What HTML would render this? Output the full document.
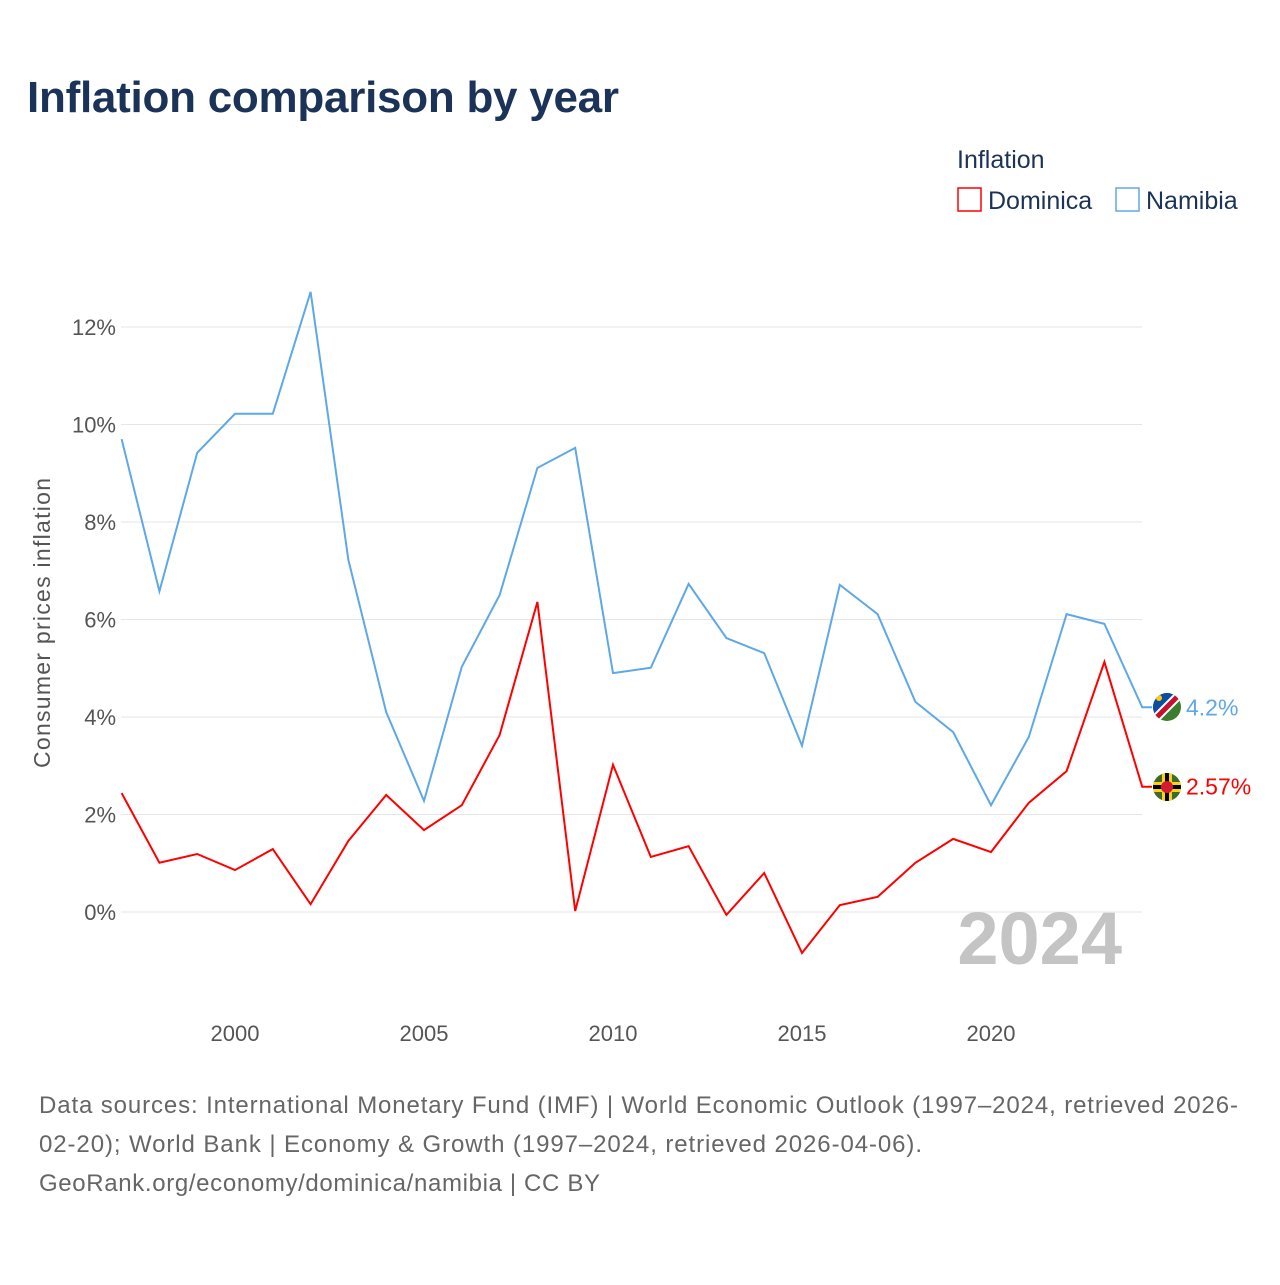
<!DOCTYPE html>
<html><head><meta charset="utf-8"><style>
body{margin:0;background:#fff;width:1280px;height:1280px;overflow:hidden;font-family:"Liberation Sans",sans-serif}
</style></head><body>
<svg id="chart" width="1280" height="1280" xmlns="http://www.w3.org/2000/svg" font-family="Liberation Sans, sans-serif">
<text x="27" y="112" font-size="44" font-weight="bold" fill="#1b3358" textLength="592">Inflation comparison by year</text>
<text x="957" y="168" font-size="25" fill="#1b3358">Inflation</text>
<g><rect x="958" y="188" width="23" height="23" fill="none" stroke="#ff0000" stroke-width="1.5"/><text x="988" y="209" font-size="25" fill="#1b3358">Dominica</text></g>
<g><rect x="1116" y="188" width="23" height="23" fill="none" stroke="#5ea8e8" stroke-width="1.5"/><text x="1146" y="209" font-size="25" fill="#1b3358">Namibia</text></g>
<text transform="translate(50,623) rotate(-90)" text-anchor="middle" font-size="23" fill="#555" textLength="290">Consumer prices inflation</text>
<g id="grid"></g><g id="yticks"></g><g id="xticks"></g>
<text x="1122" y="964" text-anchor="end" font-size="74" font-weight="bold" fill="#c4c4c4">2024</text>
<g id="series"></g>
<g><clipPath id="cn"><circle cx="1167" cy="707" r="14"/></clipPath><g clip-path="url(#cn)"><rect x="1150" y="690" width="34" height="34" fill="#3a7d2c"/><polygon points="1150,690 1184,690 1150,724" fill="#0a4ea2"/><line x1="1184" y1="690" x2="1150" y2="724" stroke="#fff" stroke-width="9"/><line x1="1184" y1="690" x2="1150" y2="724" stroke="#c8102e" stroke-width="5"/><circle cx="1159" cy="698" r="3" fill="#ffce00"/></g></g>
<g><clipPath id="cd"><circle cx="1167" cy="787" r="14"/></clipPath><g clip-path="url(#cd)"><rect x="1150" y="770" width="34" height="34" fill="#3f6b2a"/><rect x="1150" y="782" width="34" height="10" fill="#fcd116"/><rect x="1150" y="785" width="34" height="4" fill="#000"/><rect x="1162" y="770" width="10" height="34" fill="#fcd116"/><rect x="1165" y="770" width="4" height="34" fill="#000"/><circle cx="1167" cy="787" r="6" fill="#d41c30"/></g></g>
<text font-size="24" fill="#666"><tspan x="39" y="1113" textLength="1199">Data sources: International Monetary Fund (IMF) | World Economic Outlook (1997–2024, retrieved 2026-</tspan><tspan x="39" y="1152" textLength="883">02-20); World Bank | Economy &amp; Growth (1997–2024, retrieved 2026-04-06).</tspan><tspan x="39" y="1191" textLength="561">GeoRank.org/economy/dominica/namibia | CC BY</tspan></text>
</svg>
<script>
const years=[1997,1998,1999,2000,2001,2002,2003,2004,2005,2006,2007,2008,2009,2010,2011,2012,2013,2014,2015,2016,2017,2018,2019,2020,2021,2022,2023,2024];
const namibia=[9.70,6.58,9.42,10.22,10.22,12.72,7.22,4.10,2.28,5.03,6.50,9.11,9.52,4.90,5.01,6.73,5.62,5.31,3.41,6.71,6.11,4.31,3.69,2.19,3.59,6.11,5.91,4.2];
const dominica=[2.44,1.01,1.19,0.86,1.29,0.16,1.46,2.40,1.68,2.19,3.63,6.36,0.02,3.02,1.13,1.35,-0.06,0.80,-0.84,0.14,0.31,1.01,1.50,1.23,2.24,2.89,5.13,2.57];
const yTicks=[0,2,4,6,8,10,12];
const xTicks=[2000,2005,2010,2015,2020];
const X=y=>121.6+(y-1997)*37.8;
const Y=v=>912-v*48.75;
const NS="http://www.w3.org/2000/svg";
function mk(t,a,p){const e=document.createElementNS(NS,t);for(const k in a)e.setAttribute(k,a[k]);p.appendChild(e);return e;}
const grid=document.getElementById('grid'),yt=document.getElementById('yticks'),xt=document.getElementById('xticks'),se=document.getElementById('series');
yTicks.forEach(v=>{
 const l=mk('line',{x1:121,x2:1142,y1:Y(v),y2:Y(v),stroke:'#e6e6e6','stroke-width':1},grid);
 
 
 const t=mk('text',{x:116,y:Y(v)+8,'text-anchor':'end','font-size':22,fill:'#555'},yt);
 t.textContent=v+'%';
 
 
});
xTicks.forEach(v=>{
 const t=mk('text',{x:X(v),y:1041,'text-anchor':'middle','font-size':22,fill:'#555'},xt);
 t.textContent=v;
 
 
});
function line(vals,col,name,label){
 const d=vals.map((v,i)=>(i?'L':'M')+X(years[i])+','+Y(v)).join(' ')+' H1152';
 const p=mk('path',{d:d,fill:'none',stroke:col,'stroke-width':2},se);
 
 
 const last=vals[vals.length-1];
 const t=mk('text',{x:1186,y:Y(last)+8,'font-size':23,fill:col},se);
 t.textContent=label;
 
 
}
line(namibia,'#5ea8e8','namibia','4.2%');
line(dominica,'#ff0000','dominica','2.57%');
</script>
</body></html>
